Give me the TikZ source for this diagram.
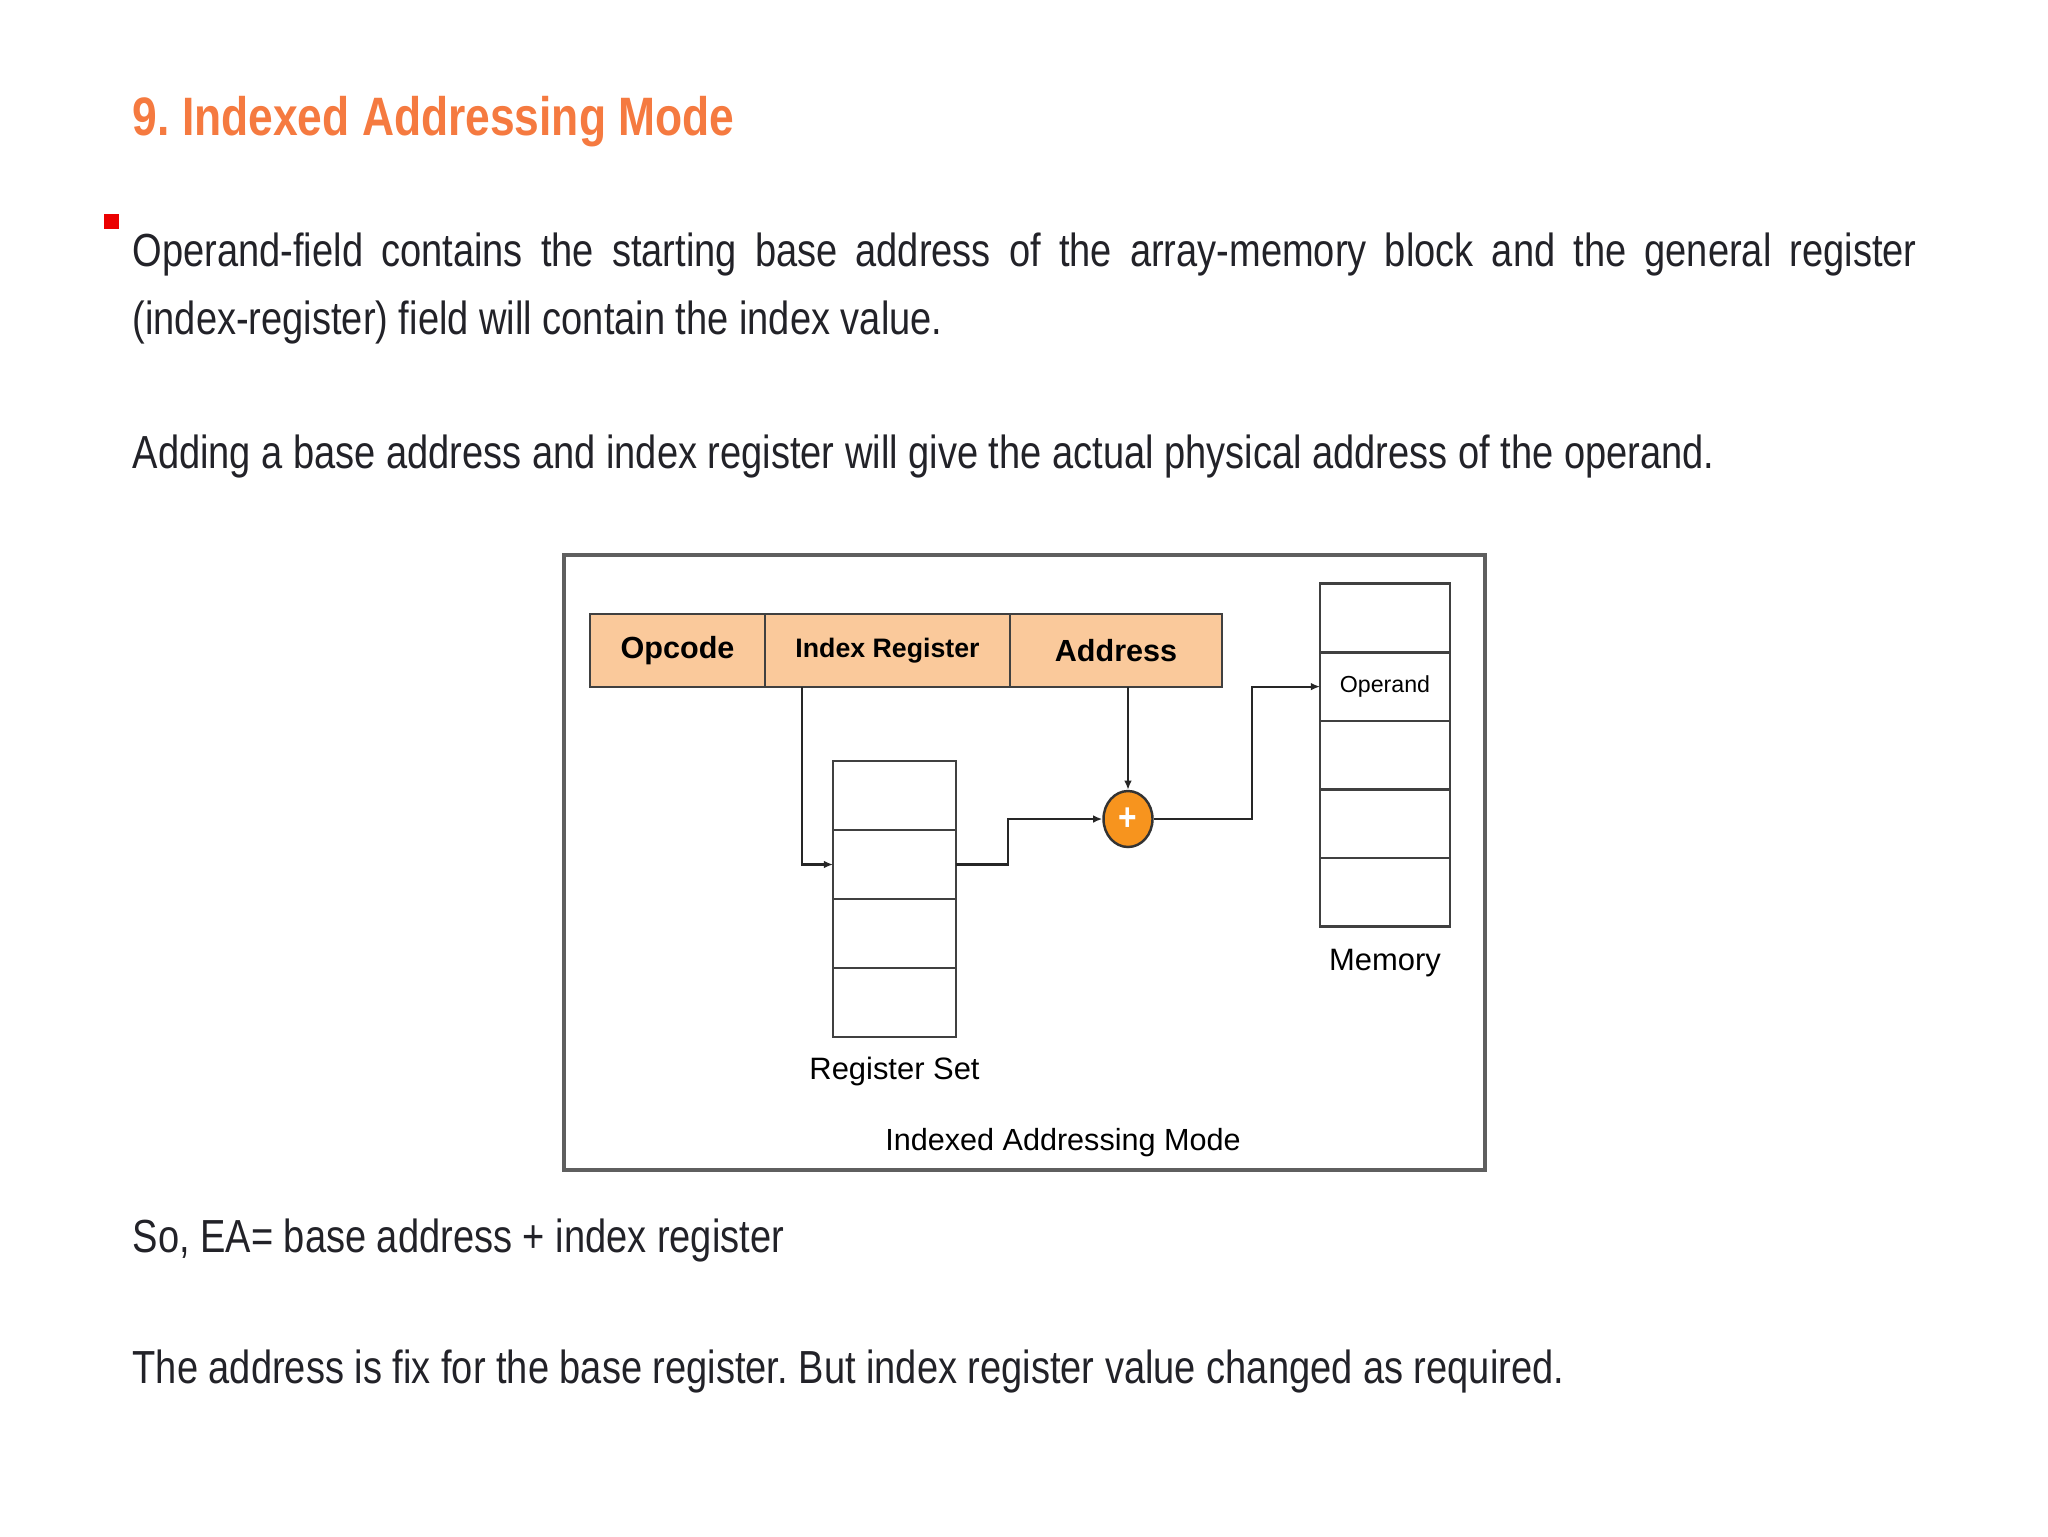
\documentclass[tikz,border=0pt]{standalone}
\usepackage{fontspec}
\setmainfont{Liberation Sans}[FakeStretch=0.82]
\newfontfamily\diagfont{Liberation Sans}
\usetikzlibrary{arrows.meta,positioning,calc,shapes.geometric}
\definecolor{titleorange}{RGB}{245,122,64}
\definecolor{barfill}{RGB}{250,201,155}
\definecolor{adderfill}{RGB}{247,148,30}
\definecolor{bodytext}{RGB}{34,34,40}
\definecolor{framegray}{RGB}{95,95,95}
\definecolor{bulletred}{RGB}{235,0,0}
\frenchspacing
\tikzset{
  bodyline/.style={anchor=base west, inner sep=0pt, text=bodytext, font=\fontsize{13.2pt}{16pt}\selectfont},
  field/.style={draw=black!75, fill=barfill, line width=0.7pt, minimum height=7.3mm, inner sep=0pt, outer sep=0pt, font=\diagfont\bfseries\fontsize{8.7pt}{10pt}\selectfont},
  cell/.style={draw=black!75, line width=0.7pt, inner sep=0pt, outer sep=0pt, minimum height=6.9mm},
  memcell/.style={draw=black!75, line width=0.7pt, inner sep=0pt, outer sep=0pt, minimum width=13mm, minimum height=6.86mm},
  label/.style={inner sep=0pt, font=\diagfont\fontsize{8.8pt}{10pt}\selectfont},
  arrow/.style={-{Latex[length=2.6pt,width=2.2pt]}, line width=0.6pt, draw=black!85},
  adder/.style={ellipse, draw=black!80, fill=adderfill, line width=0.7pt, minimum width=4.9mm, minimum height=5.6mm, inner sep=0pt}
}
\begin{document}
\begin{tikzpicture}[x=0.1mm, y=-0.1mm, node distance=0pt]
\useasboundingbox (0,0) rectangle (2048,1536);
% heading and text above the figure
\node[anchor=base west, inner sep=0pt, text=titleorange, font=\bfseries\fontsize{15.4pt}{18pt}\selectfont] (title) at (132,135) {9. Indexed Addressing Mode};
\node[fill=bulletred, minimum size=1.5mm, inner sep=0pt] (bullet) at (111,221) {};
\node[bodyline] (lineA) at (132,266) {\makebox[507.6pt][s]{Operand-field contains the starting base address of the array-memory block and the general register}};
\node[bodyline] (lineB) at (132,334) {(index-register) field will contain the index value.};
\node[bodyline] (lineC) at (132,468) {Adding a base address and index register will give the actual physical address of the operand.};
% figure
\draw[framegray, line width=0.9pt] (564,555) rectangle (1485,1170);
\node[field, minimum width=17.5mm] (opcode) at (677.5,650.5) {Opcode};
\node[field, minimum width=24.5mm, right=of opcode, font=\diagfont\bfseries\fontsize{7.6pt}{9pt}\selectfont] (idxreg) {Index Register};
\node[field, minimum width=21.2mm, right=of idxreg] (addr) {Address};
% register set
\node[cell, minimum width=12.3mm] (reg1) at (894.5,795.5) {};
\foreach \i [count=\j from 2] in {1,2,3}
  \node[cell, minimum width=12.3mm, below=of reg\i] (reg\j) {};
\node[label, below=3.4mm of reg4.south, anchor=center] (regset) {Register Set};
% memory
\node[memcell] (mem1) at (1385,618) {};
\node[memcell, below=of mem1, font=\diagfont\fontsize{6.6pt}{8pt}\selectfont] (mem2) {Operand};
\foreach \i [count=\j from 3] in {2,3,4}
  \node[memcell, below=of mem\i] (mem\j) {};
\node[label, below=3.6mm of mem5.south, anchor=center] (memory) {Memory};
\node[adder] (sum) at (1128,819) {\textcolor{white}{\bfseries\fontsize{11pt}{12pt}\selectfont +}};
\node[label, font=\diagfont\fontsize{8.7pt}{10pt}\selectfont] (caption) at (1063,1143) {Indexed Addressing Mode};
\draw[arrow] ($(idxreg.south west)+(37,0)$) |- (reg2.west);
\draw[arrow] (reg2.east) -- ++(52,0) |- (sum.west);
\draw[arrow] (sum |- addr.south) -- (sum.north);
\draw[arrow] (sum.east) -- ++(98,0) |- (mem2.west);
% text below the figure
\node[bodyline] (lineD) at (132,1252) {So, EA= base address + index register};
\node[bodyline] (lineE) at (132,1383) {The address is fix for the base register. But index register value changed as required.};
\end{tikzpicture}
\end{document}
